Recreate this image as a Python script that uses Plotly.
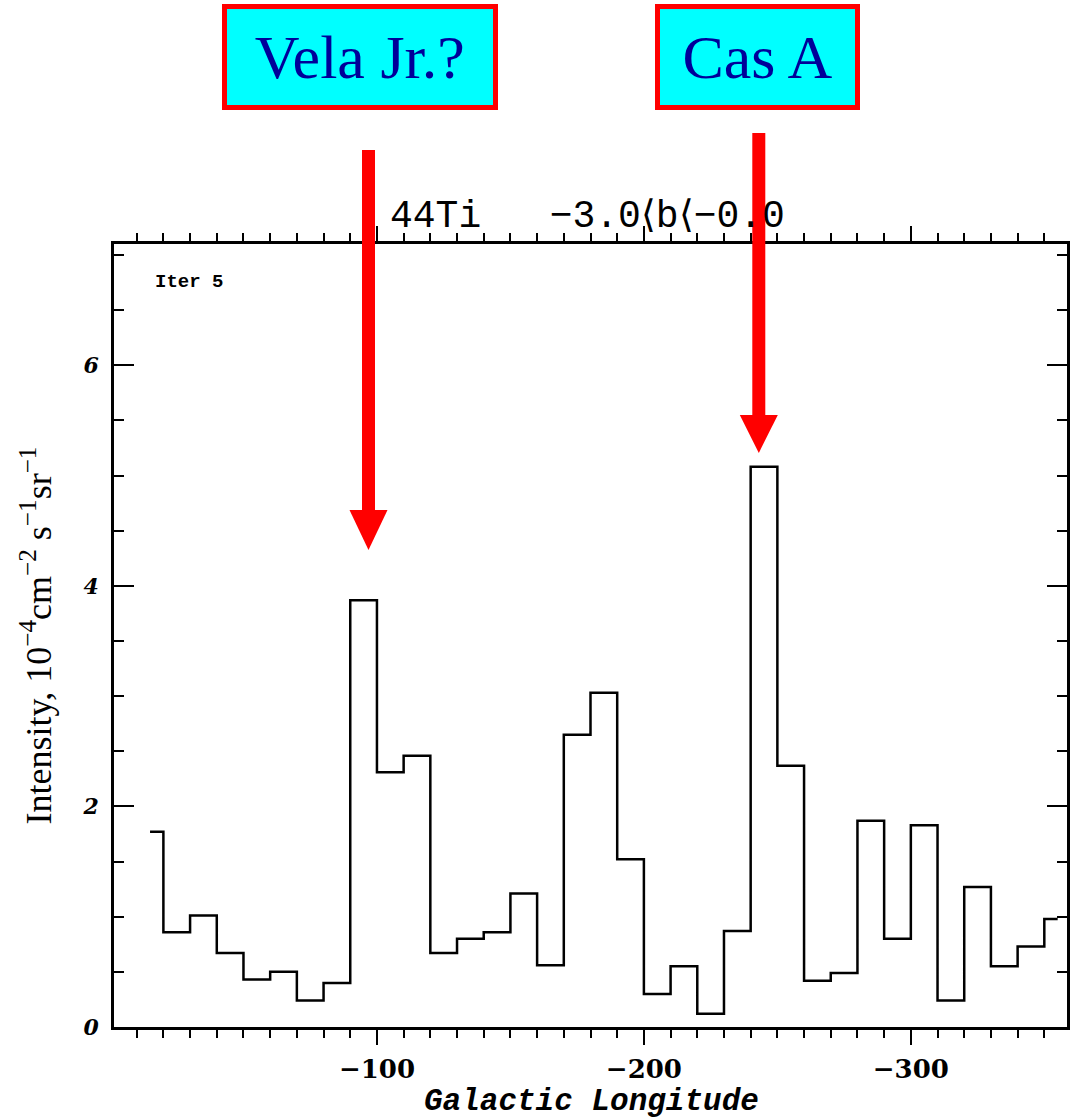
import plotly.graph_objects as go

# ---- data ----
longitude = [-15, -25, -35, -45, -55, -65, -75, -85, -95, -105,
             -115, -125, -135, -145, -155, -165, -175, -185, -195, -205,
             -215, -225, -235, -245, -255, -265, -275, -285, -295, -305,
             -315, -325, -335, -345, -355]
intensity = [1.77, 0.86, 1.01, 0.67, 0.43, 0.50, 0.24, 0.40, 3.87, 2.31,
             2.46, 0.67, 0.80, 0.86, 1.21, 0.56, 2.65, 3.03, 1.52, 0.30,
             0.55, 0.12, 0.87, 5.08, 2.37, 0.42, 0.49, 1.87, 0.80, 1.83,
             0.24, 1.27, 0.55, 0.73, 0.98]
x_range = [-1.5, -358.5]
y_range = [0, 7.1]
x_ticks = [-100, -200, -300]
y_ticks = [0, 2, 4, 6]

W, H = 1074, 1119
L, R, T, B = 114, 7, 244, 92
PW, PH = W - L - R, H - T - B


def px(x):
    return (x - L) / PW


def py(y):
    return (H - B - y) / PH


fig = go.Figure()
fig.add_trace(go.Scatter(
    x=longitude, y=intensity, mode="lines",
    line=dict(shape="hvh", color="black", width=2.5),
    showlegend=False, hoverinfo="skip"))

fig.update_layout(
    width=W, height=H,
    margin=dict(l=L, r=R, t=T, b=B, pad=0, autoexpand=False),
    paper_bgcolor="white", plot_bgcolor="white",
    showlegend=False,
)

fig.update_xaxes(
    range=x_range, tickvals=x_ticks, ticks="outside", ticklen=15,
    tickwidth=2, tickcolor="black",
    minor=dict(dtick=10, tick0=0, ticks="outside", ticklen=8,
               tickwidth=2, tickcolor="black"),
    showline=True, linewidth=2.5, linecolor="black", mirror="ticks",
    showgrid=False, zeroline=False, automargin=False,
    tickfont=dict(family="DejaVu Serif", size=26, color="black", weight="bold"),
    ticklabelstandoff=2,
)

fig.update_yaxes(
    range=y_range, tickvals=y_ticks, ticks="inside", ticklen=20,
    tickwidth=2, tickcolor="black",
    minor=dict(dtick=0.5, tick0=0, ticks="inside", ticklen=10,
               tickwidth=2, tickcolor="black"),
    showline=True, linewidth=2.5, linecolor="black", mirror="ticks",
    showgrid=False, zeroline=False, automargin=False,
    tickfont=dict(family="DejaVu Serif", size=22, color="black", style="italic",
                  weight="bold"),
    ticklabelstandoff=8,
    title=dict(text="Intensity, 10<sup>−4</sup>cm<sup>−2</sup> s<sup>−1</sup>sr<sup>−1</sup>",
               standoff=20,
               font=dict(family="Liberation Serif", size=36, color="black")),
)

# x axis title
fig.add_annotation(
    xref="paper", yref="paper", x=px(591), y=py(1101), xanchor="center", yanchor="middle",
    text="Galactic Longitude", showarrow=False,
    font=dict(family="Liberation Mono", size=31, color="black",
              style="italic", weight="bold"))

# plot title
fig.add_annotation(
    xref="paper", yref="paper", x=px(388), y=py(216), xanchor="left", yanchor="middle",
    text="44Ti   −3.0⟨b⟨−0.0", showarrow=False,
    font=dict(family="Liberation Mono", size=38, color="black"))

# Iter 5
fig.add_annotation(
    xref="paper", yref="paper", x=px(153), y=py(282), xanchor="left", yanchor="middle",
    text="Iter 5", showarrow=False,
    font=dict(family="Liberation Mono", size=19, color="black", weight="bold"))

# label boxes
boxes = [("Vela Jr.?", 222.5, 498), ("Cas A", 655, 860)]
for text, x0, x1 in boxes:
    fig.add_annotation(
        xref="paper", yref="paper", x=px((x0 + x1) / 2), y=py(57),
        xanchor="center", yanchor="middle", text=text, showarrow=False,
        width=x1 - x0 - 10, height=96, borderpad=0, borderwidth=5,
        bordercolor="#ff0000", bgcolor="#00ffff",
        font=dict(family="Liberation Serif", size=62, color="#000099"))

# arrows
arrows = [(368.5, 150, 510, 550), (758.8, 133, 415, 453)]
for xc, ytop, ybase, ytip in arrows:
    fig.add_shape(type="rect", xref="paper", yref="paper",
                  x0=px(xc - 6.5), x1=px(xc + 6.5), y0=py(ybase + 1), y1=py(ytop),
                  fillcolor="#ff0000", line=dict(width=0))
    fig.add_shape(type="path", xref="paper", yref="paper",
                  path=f"M {px(xc - 19)} {py(ybase)} L {px(xc + 19)} {py(ybase)} L {px(xc)} {py(ytip)} Z",
                  fillcolor="#ff0000", line=dict(width=0))

fig.write_html("out.html")
